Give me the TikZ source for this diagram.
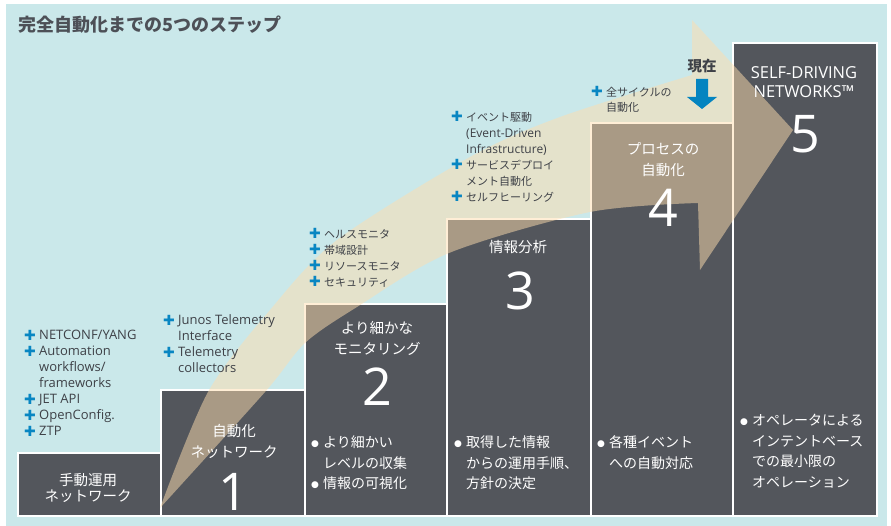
\documentclass[tikz,border=0pt]{standalone}
\usepackage{fontspec}
\setmainfont{Noto Sans CJK JP}
\newfontfamily\lat{Open Sans}
\newfontfamily\dv{DejaVu Sans}
\definecolor{bgcyan}{HTML}{CAE8EA}
\definecolor{boxgray}{HTML}{53565C}
\definecolor{arrowpeach}{HTML}{FFDEAE}
\definecolor{plusblue}{HTML}{0886C2}
\definecolor{txtdark}{HTML}{3E4147}
\definecolor{titlegray}{HTML}{4D5057}
\definecolor{nowblue}{HTML}{0484C0}
\newcommand{\pl}{\makebox[10pt][l]{\raisebox{-0.5pt}{\dv\fontsize{14}{14}\selectfont\textcolor{plusblue}{✚}}}}
\newcommand{\bul}{\raisebox{1.5pt}{\dv\fontsize{9}{9}\selectfont ●}}
\newcommand{\lt}[1]{{\lat\fontsize{12}{16}\selectfont #1}}
\begin{document}
\begin{tikzpicture}[x=1pt,y=-1pt,
  stepbox/.style={fill=boxgray, draw=white, line width=2pt, inner sep=0pt, outer sep=0pt, anchor=south west},
  lst/.style={anchor=north west, inner sep=0pt, text=txtdark},
  wlst/.style={anchor=north west, inner sep=0pt, text=white, font=\fontsize{14}{20.5}\selectfont},
  wtitle/.style={anchor=north, inner sep=0pt, text=white, font=\fontsize{14.5}{21}\selectfont},
  digit/.style={anchor=base, inner sep=0pt, text=white, font=\lat\fontsize{52}{52}\selectfont}]
\useasboundingbox (0,0) rectangle (891,526);
\fill[white] (0,0) rectangle (891,526);
\fill[bgcyan] (6,4) rectangle (887,526);

% steps
\node[stepbox, minimum width=143pt, minimum height=63pt] (b0) at (18,516) {};
\node[stepbox, minimum width=144pt, minimum height=126pt] (b1) at (161,516) {};
\node[stepbox, minimum width=142pt, minimum height=212pt] (b2) at (305,516) {};
\node[stepbox, minimum width=144pt, minimum height=297pt] (b3) at (447,516) {};
\node[stepbox, minimum width=142pt, minimum height=393pt] (b4) at (591,516) {};
\node[stepbox, minimum width=144pt, minimum height=473pt] (b5) at (733,516) {};

% big arrow
\fill[arrowpeach, fill opacity=0.5]
  plot[smooth] coordinates {(160,508) (208,392) (270,310) (337,240) (470,157) (560,117) (692,75)}
  -- (692,20) -- (793,130) -- (700,270) -- (698,203)
  -- plot[smooth] coordinates {(698,203) (590,212) (449,253) (357,307) (305,343) (265,392) (160,508)}
  -- cycle;

% title
\node[anchor=base west, inner sep=0pt, text=titlegray, font=\bfseries\fontsize{18}{20}\selectfont] (title) at (18,32) {完全自動化までの5つのステップ};

% feature lists
\node[lst, font=\lat\fontsize{13}{16}\selectfont] (l0) at (24,328.5) {\begin{tabular}{@{}l@{\hspace{5pt}}l@{}}
\pl & NETCONF/YANG\\
\pl & Automation\\
 & workflows/\\
 & frameworks\\
\pl & JET API\\
\pl & OpenConfig.\\
\pl & ZTP
\end{tabular}};
\node[lst, font=\lat\fontsize{13}{16}\selectfont] (l1) at (163,313.5) {\begin{tabular}{@{}l@{\hspace{5pt}}l@{}}
\pl & Junos Telemetry\\
 & Interface\\
\pl & Telemetry\\
 & collectors
\end{tabular}};
\node[lst, font=\fontsize{11}{16}\selectfont] (l2) at (309,227) {\begin{tabular}{@{}l@{\hspace{5pt}}l@{}}
\pl & ヘルスモニタ\\
\pl & 帯域設計\\
\pl & リソースモニタ\\
\pl & セキュリティ
\end{tabular}};
\node[lst, font=\fontsize{11}{16}\selectfont] (l3) at (451,110) {\begin{tabular}{@{}l@{\hspace{5pt}}l@{}}
\pl & イベント駆動\\
 & \lt{(Event-Driven}\\
 & \lt{Infrastructure)}\\
\pl & サービスデプロイ\\
 & メント自動化\\
\pl & セルフヒーリング
\end{tabular}};
\node[lst, font=\fontsize{11}{15}\selectfont] (l4) at (591,85.5) {\begin{tabular}{@{}l@{\hspace{5pt}}l@{}}
\pl & 全サイクルの\\
 & 自動化
\end{tabular}};

% step titles
\node[wtitle] (t0) at (88,471.5) {\fontsize{14.5}{20}\selectfont\begin{tabular}{@{}c@{}}手動運用\\[-4pt]ネットワーク\end{tabular}};
\node[wtitle] (t1) at (234,421.8) {\begin{tabular}{@{}c@{}}自動化\\ネットワーク\end{tabular}};
\node[wtitle] (t2) at (377,318.8) {\begin{tabular}{@{}c@{}}より細かな\\モニタリング\end{tabular}};
\node[anchor=base, inner sep=0pt, text=white, font=\fontsize{14.5}{21}\selectfont] (t3) at (518,252.5) {情報分析};
\node[wtitle] (t4) at (663,139.8) {\begin{tabular}{@{}c@{}}プロセスの\\自動化\end{tabular}};
\node[anchor=north, inner sep=0pt, text=white, font=\lat\fontsize{16.5}{19}\selectfont] (t5) at (804,64.6) {\begin{tabular}{@{}c@{}}SELF-DRIVING\\NETWORKS™\end{tabular}};

% digits
\node[digit] (n1) at (233,510) {1};
\node[digit] (n2) at (377,405) {2};
\node[digit] (n3) at (520,310) {3};
\node[digit] (n4) at (663,227) {4};
\node[digit] (n5) at (805,153) {5};

% step descriptions
\node[wlst] (d2) at (311,433) {\begin{tabular}{@{}l@{\hspace{4pt}}l@{}}
\bul & より細かい\\
 & レベルの収集\\
\bul & 情報の可視化
\end{tabular}};
\node[wlst] (d3) at (454,433) {\begin{tabular}{@{}l@{\hspace{4pt}}l@{}}
\bul & 取得した情報\\
 & からの運用手順、\\
 & 方針の決定
\end{tabular}};
\node[wlst] (d4) at (597,433) {\begin{tabular}{@{}l@{\hspace{4pt}}l@{}}
\bul & 各種イベント\\
 & への自動対応
\end{tabular}};
\node[wlst] (d5) at (740,411) {\begin{tabular}{@{}l@{\hspace{4pt}}l@{}}
\bul & オペレータによる\\
 & インテントベース\\
 & での最小限の\\
 & オペレーション
\end{tabular}};

% current marker
\node[anchor=base, inner sep=0pt, text=txtdark, font=\bfseries\fontsize{14.5}{16}\selectfont] (now) at (702,72) {現在};
\fill[nowblue] (696,79) -- (708,79) -- (708,97) -- (717,97) -- (702,109) -- (687,97) -- (696,97) -- cycle;
\end{tikzpicture}
\end{document}
